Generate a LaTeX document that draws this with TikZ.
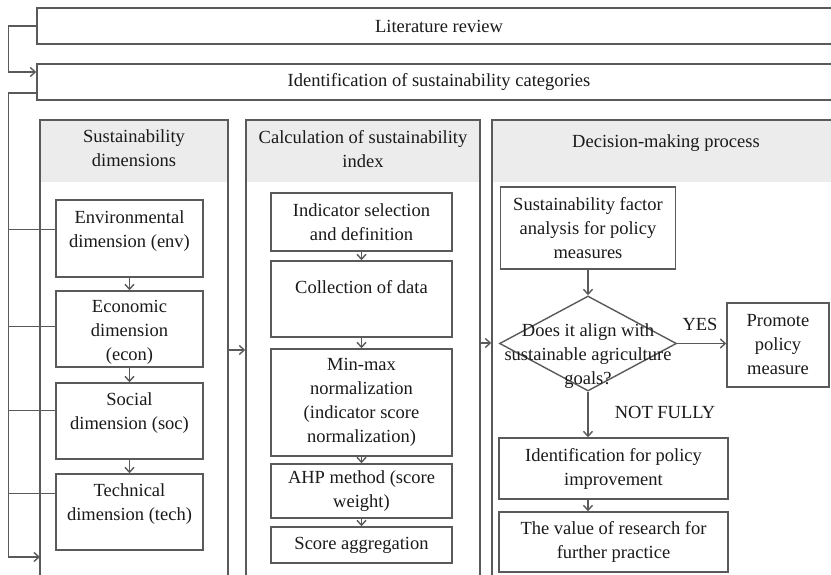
\documentclass[tikz,border=0pt]{standalone}
\usepackage{fontspec}
\setmainfont{Liberation Serif}
\usetikzlibrary{arrows.meta,shapes.geometric}
\definecolor{ln}{HTML}{5A5A5A}
\definecolor{tx}{HTML}{1A1A1A}
\definecolor{hd}{HTML}{ECECEC}
\begin{document}
\begin{tikzpicture}[x=1pt,y=-1pt,
  every node/.style={font=\fontsize{18.5}{24}\selectfont, text=tx, align=center},
  sz/.style 2 args={minimum width=#1pt, minimum height=#2pt, inner sep=0pt},
  box/.style={draw=ln, line width=1.4pt},
  hdr/.style={fill=hd, draw=none},
  panel/.style={draw=ln, line width=1.4pt},
  tl/.style 2 args={label={[anchor=north, inner sep=0pt, yshift=-#1pt]north:{#2}}},
  ln/.style={draw=ln, line width=1.4pt},
  arr/.style={draw=ln, line width=1.4pt, -{Straight Barb[length=5pt,width=9pt]}}
]
\useasboundingbox (0,0) rectangle (831,575);
\clip (0,0) rectangle (831,575);
\fill[white] (0,0) rectangle (831,575);

% top boxes
\node[box, sz={804}{36}] (lit) at (439,26) {Literature review};
\node[box, sz={804}{36}] (ident) at (439,82) {Identification of sustainability categories};

% panels
\node[hdr, sz={188}{62}, tl={10}{Sustainability\\dimensions}] (h1) at (134,151) {};
\node[hdr, sz={234}{62}, tl={10}{Calculation of sustainability\\index}] (h2) at (363,151) {};
\node[hdr, sz={348}{62}, tl={15}{Decision-making process}] (h3) at (666,151) {};
\node[panel, sz={188}{470}] (p1) at (134,355) {};
\node[panel, sz={234}{470}] (p2) at (363,355) {};
\node[panel, sz={348}{470}] (p3) at (666,355) {};

% panel 1
\node[box, sz={147}{77}, tl={11}{Environmental\\dimension (env)}] (env) at (129.5,238.5) {};
\node[box, sz={147}{76}, tl={10}{Economic\\dimension\\(econ)}] (econ) at (129.5,329) {};
\node[box, sz={147}{76}, tl={10}{Social\\dimension (soc)}] (soc) at (129.5,421) {};
\node[box, sz={147}{76}, tl={10}{Technical\\dimension (tech)}] (tech) at (129.5,512) {};

% panel 2
\node[box, sz={181}{58}] (ind) at (361.5,222) {Indicator selection\\and definition};
\node[box, sz={181}{76}, tl={20}{Collection of data}] (col) at (361.5,299) {};
\node[box, sz={181}{107}] (mm) at (361.5,402.5) {Min-max\\normalization\\(indicator score\\normalization)};
\node[box, sz={181}{54}] (ahp) at (361.5,491) {AHP method (score\\weight)};
\node[box, sz={181}{36}] (score) at (361.5,545) {Score aggregation};

% panel 3
\node[box, sz={175}{82}] (fac) at (588,228) {Sustainability factor\\analysis for policy\\measures};
\node[box, shape=diamond, sz={177}{95},
  label={[inner sep=0pt, yshift=-12.5pt]center:{Does it align with\\sustainable agriculture\\goals?}}] (dia) at (588,343.5) {};
\node[box, sz={102}{84}] (prom) at (778,345) {Promote\\policy\\measure};
\node[box, sz={229}{61}] (imp) at (613.5,468.5) {Identification for policy\\improvement};
\node[box, sz={229}{60}] (val) at (613.5,542) {The value of research for\\further practice};
\node (yes) at (700,324) {YES};
\node (nf) at (665,412) {NOT FULLY};

% left connectors
\draw[arr] (lit.west) -- ++(-28,0) |- ([yshift=10pt]ident.west);
\coordinate (p1in) at (40,557);
\draw[arr] ([yshift=-11pt]ident.west) -- ++(-28,0) coordinate (bus) |- (p1in);
\coordinate (eb) at ([yshift=-30pt]env.north west);
\coordinate (cb) at ([yshift=-36pt]econ.north west);
\coordinate (sb) at ([yshift=-28pt]soc.north west);
\coordinate (tb) at ([yshift=-20pt]tech.north west);
\foreach \c in {eb,cb,sb,tb} \draw[ln] (\c) -- (\c -| bus);

% panel arrows
\draw[arr] ([yshift=5pt]p1.east) -- ([yshift=5pt]p1.east -| p2.west);
\draw[arr] ([yshift=12pt]p2.east) -- ([yshift=12pt]p2.east -| p3.west);

% inner arrows
\draw[arr] (env) -- (econ);
\draw[arr] (econ) -- (soc);
\draw[arr] (soc) -- (tech);
\draw[arr] (ind) -- (col);
\draw[arr] (col) -- (mm);
\draw[arr] (mm) -- (ahp);
\draw[arr] (ahp) -- (score);
\draw[arr] (fac.south) -- (dia.north);
\draw[arr] (dia.east) -- (dia.east -| prom.west);
\draw[arr] (dia.south) -- (dia.south |- imp.north);
\draw[arr] (dia.south |- imp.south) -- (dia.south |- val.north);
\end{tikzpicture}
\end{document}
